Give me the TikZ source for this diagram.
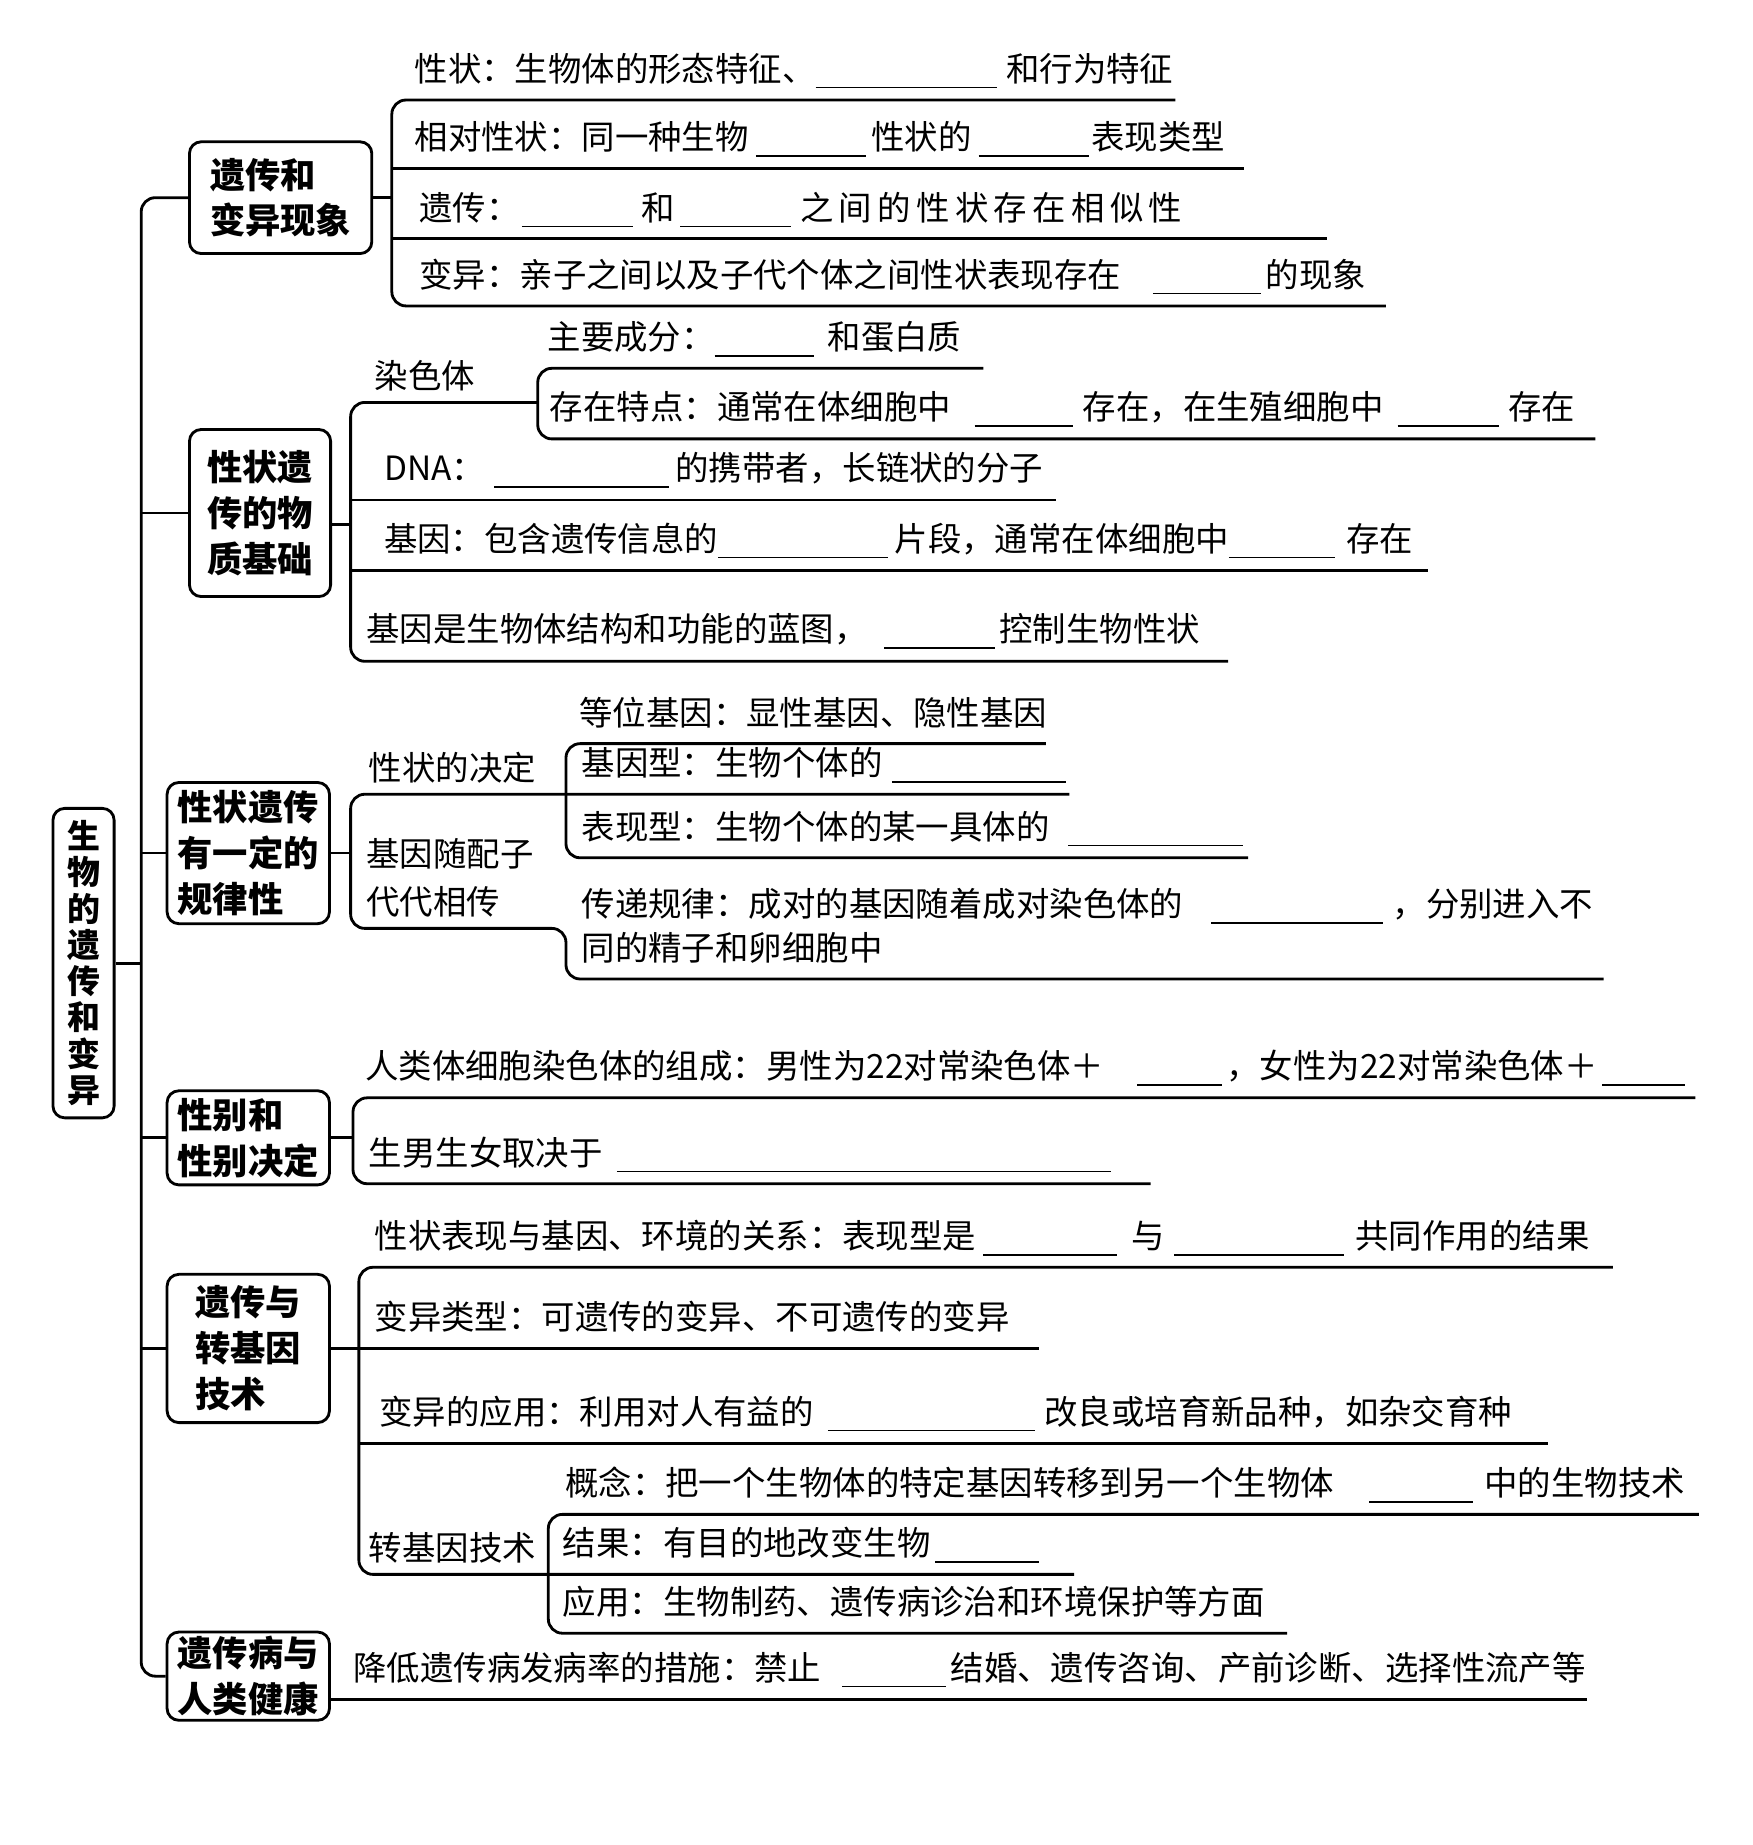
\documentclass[tikz,border=0pt]{standalone}
\usepackage{fontspec}
\setmainfont{Noto Sans CJK SC}
\newcommand\blank[1]{\smash{\rule[-3pt]{#1}{0.7pt}}}
\tikzset{
  topic/.style={draw, line width=1.2pt, rounded corners=5pt, inner sep=0pt, align=left,
    font=\bfseries\fontsize{15}{19.5}\selectfont},
  leaf/.style={anchor=south west, inner xsep=0pt, inner ysep=6.5pt, align=left,
    font=\fontsize{14.2}{18.5}\selectfont},
  tag/.style={anchor=south west, inner xsep=0pt, inner ysep=4.5pt, align=left,
    font=\fontsize{14.2}{20.5}\selectfont},
  link/.style={line width=1.2pt, rounded corners=6pt},
}
\begin{document}
\begin{tikzpicture}[x=0.5pt, y=-0.5pt]
\useasboundingbox (0,0) rectangle (1489,1568);
\coordinate (trunk) at (120,0);
\coordinate (b1) at (333,0);
\coordinate (b2) at (298,0);
\coordinate (b2a) at (457,0);
\coordinate (b3) at (298,0);
\coordinate (b3a) at (481,0);
\coordinate (b4) at (300,0);
\coordinate (b5) at (305,0);
\coordinate (b5a) at (466,0);

\node[topic, minimum width=26pt, minimum height=131.5pt, align=center,
  font=\bfseries\fontsize{14}{15.4}\selectfont] (root) at (71,818.5) {生\\物\\的\\遗\\传\\和\\变\\异};
\node[topic, minimum width=77.5pt, minimum height=47.5pt] (box1) at (238.5,168) {遗传和\\变异现象};
\node[topic, minimum width=60pt, minimum height=71pt] (box2) at (221,436) {性状遗\\传的物\\质基础};
\node[topic, minimum width=69pt, minimum height=60pt] (box3) at (211,725) {性状遗传\\有一定的\\规律性};
\node[topic, minimum width=69pt, minimum height=40pt] (box4) at (211,967) {性别和\\性别决定};
\node[topic, minimum width=69pt, minimum height=63pt] (box5) at (211,1146) {遗传与\\转基因\\技术};
\node[topic, minimum width=69pt, minimum height=37.5pt] (box6) at (211,1424.5) {遗传病与\\人类健康};

\node[leaf, text width=323pt] (ph1) at (352,85) {性状：生物体的形态特征、\blank{77pt}\kern4pt 和行为特征};
\node[leaf, text width=352pt] (ph2) at (352,143) {相对性状：同一种生物\kern3pt\blank{47pt}\kern2pt 性状的\kern3pt\blank{47pt}\kern1pt 表现类型};
\node[leaf, text width=385.5pt] (ph3) at (356,203) {遗传：\kern1pt\blank{47pt}\kern4pt 和\kern2pt\blank{47pt}\kern4pt {\addfontfeature{LetterSpace=16}之间的性状存在相似性}};
\node[leaf, text width=410.5pt] (ph4) at (356,260) {变异：亲子之间以及子代个体之间性状表现存在\kern13.5pt\blank{46pt}\kern2pt 的现象};

\node[tag] (rs) at (318,342) {染色体};
\node[leaf, text width=185pt] (rs1) at (465,313) {主要成分：\blank{42pt}\kern6pt 和蛋白质};
\node[leaf, text width=444pt] (rs2) at (467,373) {存在特点：通常在体细胞中\kern10pt\blank{42pt}\kern4pt 存在，在生殖细胞中\kern6pt\blank{43pt}\kern4pt 存在};
\node[leaf, text width=285.5pt] (dna) at (326,425) {DNA：\kern4pt\blank{74pt}\kern3pt 的携带者，长链状的分子};
\node[leaf, text width=443.5pt] (gene) at (326,485) {基因：包含遗传信息的\blank{72pt}\kern3pt 片段，通常在体细胞中\blank{45pt}\kern5pt 存在};
\node[leaf, text width=366pt] (blue) at (311,562) {基因是生物体结构和功能的蓝图，\kern7pt\blank{47pt}\kern2pt 控制生物性状};

\node[tag] (xz) at (313,675) {性状的决定};
\node[tag] (gz) at (311,789) {基因随配子\\代代相传};
\node[leaf, text width=198pt] (allele) at (492,632) {等位基因：显性基因、隐性基因};
\node[leaf, text width=207pt] (geno) at (494,675) {基因型：生物个体的\kern4pt\blank{74pt}};
\node[leaf, text width=283pt] (pheno) at (494,729) {表现型：生物个体的某一具体的\kern8pt\blank{74pt}};
\node[leaf, text width=434pt] (law) at (494,832) {传递规律：成对的基因随着成对染色体的\kern12pt\blank{73pt}\kern4pt，分别进入不\\同的精子和卵细胞中};

\node[leaf, text width=565pt] (kary) at (310,933) {人类体细胞染色体的组成：男性为22对常染色体＋\kern14pt\blank{36pt}\kern2pt，女性为22对常染色体＋\kern2pt\blank{35pt}};
\node[leaf, text width=332pt] (sex) at (313,1006) {生男生女取决于\kern6pt\blank{210pt}};

\node[leaf, text width=526pt] (env) at (318,1077) {性状表现与基因、环境的关系：表现型是\kern3pt\blank{57pt}\kern6pt 与\kern4pt\blank{72pt}\kern5pt 共同作用的结果};
\node[leaf, text width=282pt] (vtype) at (318,1146) {变异类型：可遗传的变异、不可遗传的变异};
\node[leaf, text width=496.5pt] (vapp) at (322,1227) {变异的应用：利用对人有益的\kern6pt\blank{88pt}\kern4pt 改良或培育新品种，如杂交育种};
\node[tag] (tg) at (313,1338) {转基因技术};
\node[leaf, text width=481.5pt] (concept) at (480,1287) {概念：把一个生物体的特定基因转移到另一个生物体\kern15pt\blank{44pt}\kern5pt 中的生物技术};
\node[leaf, text width=217pt] (result) at (478,1338) {结果：有目的地改变生物\kern2pt\blank{44pt}};
\node[leaf, text width=307.5pt] (use) at (478,1388) {应用：生物制药、遗传病诊治和环境保护等方面};

\node[leaf, text width=524pt] (measure) at (300,1444) {降低遗传病发病率的措施：禁止\kern9pt\blank{44pt}\kern2pt 结婚、遗传咨询、产前诊断、选择性流产等};

\draw[link] (box1.west) -- (trunk |- box1.west) -- (trunk |- box6.west) -- (box6.west);
\foreach \b in {box2,box3,box4,box5} \draw[link] (trunk |- \b.west) -- (\b.west);
\draw[link] (root.east) -- (trunk |- root.east);

\draw[link] (box1.east) -- (b1 |- box1.east);
\draw[link] (ph1.south east) -- (b1 |- ph1.south) -- (b1 |- ph4.south) -- (ph4.south east);
\foreach \r in {ph2,ph3} \draw[link] (b1 |- \r.south) -- (\r.south east);

\coordinate (s2) at ([yshift=-5pt]box2.east);
\draw[link] (s2) -- (b2 |- s2);
\draw[link] (b2a |- rs.south) -- (b2 |- rs.south) -- (b2 |- blue.south) -- (blue.south east);
\draw[link] (rs1.south east) -- (b2a |- rs1.south) -- (b2a |- rs2.south) -- (rs2.south east);
\foreach \r in {dna,gene} \draw[link] (b2 |- \r.south) -- (\r.south east);

\draw[link] (box3.east) -- (b3 |- box3.east);
\draw[link] (geno.south east) -- (b3 |- geno.south) -- (b3 |- gz.south) -- (b3a |- gz.south) -- (b3a |- law.south) -- (law.south east);
\draw[link] (allele.south east) -- (b3a |- allele.south) -- (b3a |- pheno.south) -- (pheno.south east);

\draw[link] (box4.east) -- (b4 |- box4.east);
\draw[link] (kary.south east) -- (b4 |- kary.south) -- (b4 |- sex.south) -- (sex.south east);

\draw[link] (box5.east) -- (vtype.south east);
\draw[link] (env.south east) -- (b5 |- env.south) -- (b5 |- tg.south) -- (result.south east);
\draw[link] (b5 |- vapp.south) -- (vapp.south east);
\draw[link] (concept.south east) -- (b5a |- concept.south) -- (b5a |- use.south) -- (use.south east);

\draw[link] (box6.east |- measure.south) -- (measure.south east);
\end{tikzpicture}
\end{document}
